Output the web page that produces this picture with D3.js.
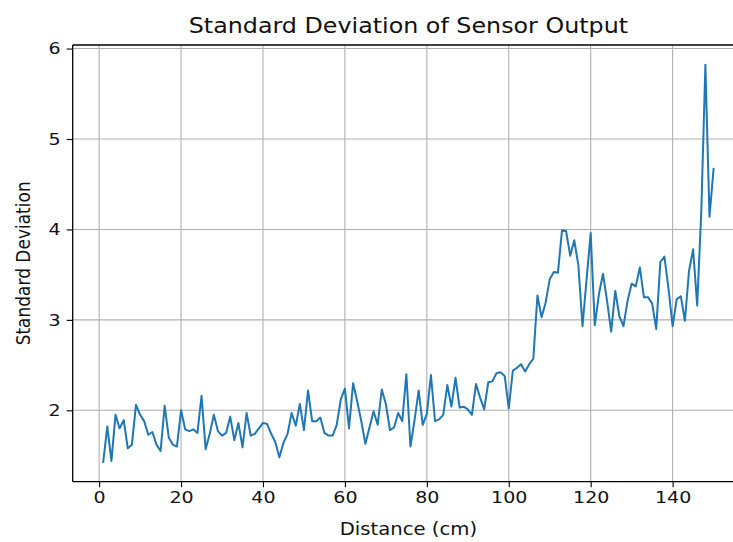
<!DOCTYPE html>
<html>
<head>
<meta charset="utf-8">
<script src="https://cdn.jsdelivr.net/npm/d3@7"></script>
<style>
  html, body { margin: 0; padding: 0; background: #fff; overflow: hidden; }
  svg { display: block; font-family: "DejaVu Sans", sans-serif; }
</style>
</head>
<body>
<svg id="chart" width="733" height="542"></svg>
<script>
// Distance in cm (1..150) and the standard deviation measured at each step
const distance = d3.range(1, 151);
const stdDev = [
  1.43, 1.82, 1.44, 1.95, 1.80, 1.89, 1.58, 1.62, 2.06, 1.95,
  1.88, 1.73, 1.76, 1.62, 1.55, 2.05, 1.70, 1.62, 1.60, 2.00,
  1.79, 1.77, 1.79, 1.75, 2.16, 1.57, 1.74, 1.95, 1.77, 1.72,
  1.75, 1.93, 1.67, 1.86, 1.59, 1.97, 1.72, 1.74, 1.80, 1.86,
  1.85, 1.74, 1.65, 1.48, 1.64, 1.74, 1.97, 1.83, 2.07, 1.78,
  2.22, 1.88, 1.88, 1.92, 1.75, 1.72, 1.72, 1.84, 2.12, 2.24,
  1.80, 2.30, 2.10, 1.88, 1.63, 1.81, 1.99, 1.84, 2.23, 2.07,
  1.78, 1.81, 1.97, 1.88, 2.40, 1.60, 1.89, 2.22, 1.84, 1.96,
  2.39, 1.88, 1.90, 1.95, 2.28, 2.04, 2.36, 2.03, 2.04, 2.01,
  1.95, 2.29, 2.14, 2.01, 2.31, 2.32, 2.41, 2.42, 2.38, 2.02,
  2.44, 2.47, 2.51, 2.43, 2.51, 2.57, 3.27, 3.03, 3.19, 3.45,
  3.53, 3.52, 3.99, 3.98, 3.71, 3.88, 3.60, 2.93, 3.45, 3.96,
  2.94, 3.28, 3.51, 3.21, 2.87, 3.32, 3.04, 2.93, 3.21, 3.40,
  3.37, 3.58, 3.25, 3.25, 3.18, 2.90, 3.64, 3.70, 3.34, 2.93,
  3.23, 3.26, 2.99, 3.54, 3.78, 3.16, 4.20, 5.82, 4.14, 4.67
];
const xTicks = [0, 20, 40, 60, 80, 100, 120, 140];
const yTicks = [2, 3, 4, 5, 6];
const titleText = "Standard Deviation of Sensor Output";
const xLabel = "Distance (cm)";
const yLabel = "Standard Deviation";

// text is drawn slightly wider than tall
const SX = 1.155;
const TEXT_COLOR = "#111";

const svg = d3.select("#chart");
const plotL = 72.7, plotR = 744.1, plotT = 45, plotB = 481.7;

// 5% padding around the data range on both axes
const pad = (lo, hi) => { const s = hi - lo; return [lo - 0.05 * s, hi + 0.05 * s]; };
const x = d3.scaleLinear().domain(pad(d3.min(distance), d3.max(distance))).range([plotL, plotR]);
const y = d3.scaleLinear().domain(pad(d3.min(stdDev), d3.max(stdDev))).range([plotB, plotT]);

// grid
const grid = svg.append("g").attr("stroke", "#b0b0b0").attr("stroke-width", 1.1);
grid.selectAll("line.gx").data(xTicks).join("line").attr("class", "gx")
  .attr("x1", d => x(d)).attr("x2", d => x(d)).attr("y1", plotT).attr("y2", plotB);
grid.selectAll("line.gy").data(yTicks).join("line").attr("class", "gy")
  .attr("x1", plotL).attr("x2", plotR).attr("y1", d => y(d)).attr("y2", d => y(d));

// series
const data = distance.map((d, i) => [d, stdDev[i]]);
svg.append("path")
  .datum(data)
  .attr("fill", "none")
  .attr("stroke", "#1f77b4")
  .attr("stroke-width", 2)
  .attr("stroke-linejoin", "round")
  .attr("stroke-linecap", "square")
  .attr("d", d3.line().x(d => x(d[0])).y(d => y(d[1])));

// axes
const xAxis = svg.append("g").attr("transform", `translate(0,${plotB})`)
  .call(d3.axisBottom(x).tickValues(xTicks).tickFormat(d3.format("d")).tickSize(5.5).tickPadding(4));
const yAxis = svg.append("g").attr("transform", `translate(${plotL},0)`)
  .call(d3.axisLeft(y).tickValues(yTicks).tickFormat(d3.format("d")).tickSize(6).tickPadding(6));
[xAxis, yAxis].forEach(a => {
  a.select(".domain").remove();
  a.selectAll(".tick line").attr("stroke", "#000").attr("stroke-width", 1.1);
  a.selectAll(".tick text").attr("fill", TEXT_COLOR).attr("font-size", 16.5)
    .attr("font-family", "DejaVu Sans, sans-serif");
});
xAxis.selectAll(".tick text").attr("transform", `scale(${SX},1)`);
yAxis.selectAll(".tick text").attr("x", -12 / SX).attr("transform", `scale(${SX},1)`);

// frame
const frame = svg.append("g").attr("stroke", "#000").attr("stroke-width", 1.3).attr("fill", "none");
frame.append("line").attr("x1", plotL).attr("x2", plotL).attr("y1", plotT).attr("y2", plotB);
frame.append("line").attr("x1", plotL).attr("x2", plotR).attr("y1", plotB).attr("y2", plotB);
frame.append("line").attr("x1", plotL).attr("x2", plotR).attr("y1", plotT).attr("y2", plotT);
frame.append("line").attr("x1", plotR).attr("x2", plotR).attr("y1", plotT).attr("y2", plotB);

// labels
const cx = (plotL + plotR) / 2, cy = (plotT + plotB) / 2;
svg.append("text").attr("transform", `translate(${cx},33) scale(${SX},1)`)
  .attr("text-anchor", "middle").attr("font-size", 20.6).attr("fill", TEXT_COLOR).text(titleText);
svg.append("text").attr("transform", `translate(${cx},535) scale(${SX},1)`)
  .attr("text-anchor", "middle").attr("font-size", 17).attr("fill", TEXT_COLOR).text(xLabel);
svg.append("text").attr("transform", `translate(30,${cy}) scale(${SX},1) rotate(-90)`)
  .attr("text-anchor", "middle").attr("font-size", 17).attr("fill", TEXT_COLOR).text(yLabel);
</script>
</body>
</html>
